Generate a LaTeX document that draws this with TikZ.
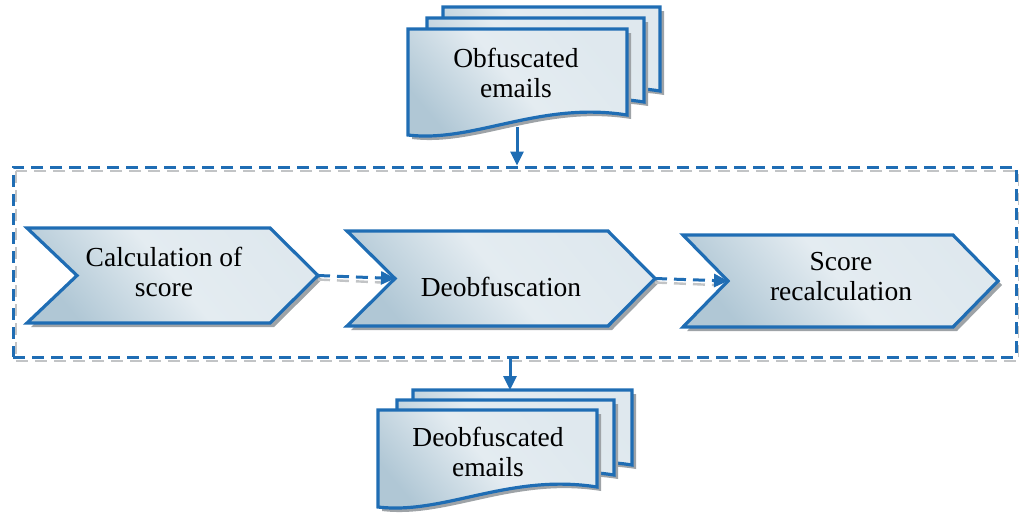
\documentclass[tikz,border=0pt]{standalone}
\usepackage{fontspec}
\setmainfont{Liberation Serif}
\usetikzlibrary{arrows.meta}

\definecolor{edgeblue}{HTML}{1F6DB4}
\definecolor{fillhi}{HTML}{E4ECF1}
\definecolor{filllo}{HTML}{B0C7D5}
\definecolor{shadowgrey}{HTML}{9EA3A7}
\definecolor{dashshadow}{HTML}{C2C4C6}

\tikzset{
  shapeface/.style={draw=edgeblue, line width=3.2pt, line join=miter,
    top color=fillhi!90!filllo, bottom color=filllo, middle color=fillhi,
    shading angle=-50},
  shapeshadow/.style={fill=shadowgrey, draw=none},
  flowarrow/.style={draw=edgeblue, line width=3pt,
    -{Triangle[length=14pt,width=13pt]}},
  dashflow/.style={flowarrow, dash pattern=on 12pt off 7pt},
  dashshade/.style={draw=dashshadow, line width=2.4pt, dash pattern=on 12pt off 7pt},
  procframe/.style={draw=edgeblue, line width=3pt, dash pattern=on 12pt off 7pt,
    inner sep=0pt},
  steptext/.style={font=\fontsize{27.5}{30}\selectfont, align=center, inner sep=0pt},
}

% chevron: name, left, notch, right shoulder, tip, top, bottom
\newcommand\chevronstep[7]{%
  \begin{scope}[shift={(4,4)}]
    \fill[shapeshadow] (#2,#6) -- (#4,#6) -- (#5,{(#6+#7)/2}) -- (#4,#7)
      -- (#2,#7) -- (#3,{(#6+#7)/2}) -- cycle;
  \end{scope}
  \draw[shapeface] (#2,#6) -- (#4,#6) -- (#5,{(#6+#7)/2}) -- (#4,#7)
    -- (#2,#7) -- (#3,{(#6+#7)/2}) -- cycle;
  \coordinate (#1-in) at (#3,{(#6+#7)/2});
  \coordinate (#1-out) at (#5,{(#6+#7)/2});
}

% one document sheet with a wavy lower edge: left, top, width, height
\newcommand\docsheet[4]{%
  \begin{scope}[shift={(4,4)}]
    \fill[shapeshadow] (#1,#2) -- ({#1+#3},#2) -- ({#1+#3},{#2+#4-20})
      .. controls ({#1+0.6*#3},{#2+#4-34}) and ({#1+0.3*#3},{#2+#4+8}) .. (#1,{#2+#4}) -- cycle;
  \end{scope}
  \draw[shapeface] (#1,#2) -- ({#1+#3},#2) -- ({#1+#3},{#2+#4-20})
    .. controls ({#1+0.6*#3},{#2+#4-34}) and ({#1+0.3*#3},{#2+#4+8}) .. (#1,{#2+#4}) -- cycle;
}

\begin{document}
\begin{tikzpicture}[x=1pt,y=-1pt]
  \useasboundingbox (0,0) rectangle (1019,515);

  % input documents
  \docsheet{443}{7}{217}{104}
  \docsheet{427}{18}{217}{104}
  \docsheet{408}{29}{219}{106}
  \node[steptext] (obf) at (516,73) {Obfuscated\\emails};
  \coordinate (obf-out) at (517,127);

  % process frame with its shadow
  \draw[dashshade] (16,171) rectangle (1019,361);
  \node[procframe, minimum width=1003pt, minimum height=190pt] (frame) at (514.5,262) {};

  % processing steps
  \chevronstep{calc}{27}{77}{270}{318}{228}{323}
  \chevronstep{deob}{347}{395}{608}{655}{231}{326}
  \chevronstep{recalc}{683}{728}{953}{998}{235}{327}

  \node[steptext] (calc-t) at (164,272) {Calculation of\\score};
  \node[steptext] (deob-t) at (501,287) {Deobfuscation};
  \node[steptext] (recalc-t) at (841,277) {Score\\recalculation};

  % flow between steps
  \draw[dashshade] ([yshift=-4pt]calc-out) -- ([yshift=-4pt,xshift=-14pt]deob-in);
  \draw[dashshade] ([yshift=-4pt]deob-out) -- ([yshift=-4pt,xshift=-14pt]recalc-in);
  \draw[dashflow] (calc-out) -- (deob-in);
  \draw[dashflow] (deob-out) -- (recalc-in);

  % output documents
  \docsheet{413}{390}{219}{95}
  \docsheet{397}{400}{217}{95}
  \docsheet{378}{410}{219}{97}
  \node[steptext] (deobf) at (488,452) {Deobfuscated\\emails};
  \coordinate (deobf-in) at (510,390);

  % flow into and out of the frame
  \draw[flowarrow] (obf-out) -- (obf-out |- frame.north);
  \draw[flowarrow] (deobf-in |- frame.south) -- (deobf-in);
\end{tikzpicture}
\end{document}
